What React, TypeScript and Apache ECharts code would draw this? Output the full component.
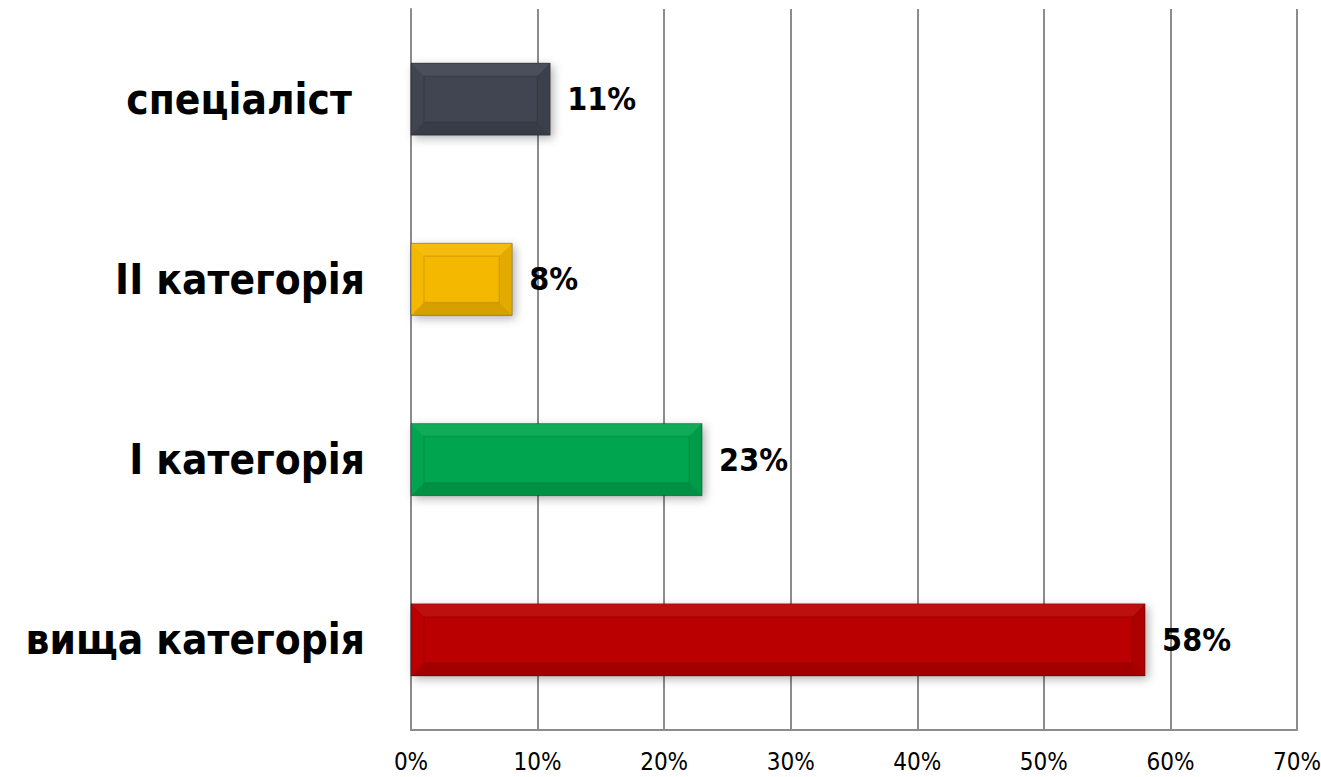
import React, { useEffect, useRef } from "react";
import * as echarts from "echarts";

const categories = ["вища категорія", "I категорія", "II категорія", "спеціаліст "];
const values = [58, 23, 8, 11];
const colors = ["#BA0000", "#00A650", "#F5B800", "#3F4451"];
const xTicks = [0, 10, 20, 30, 40, 50, 60, 70];

export default function App() {
  const ref = useRef<HTMLDivElement>(null);
  useEffect(() => {
    if (!ref.current) return;
    const chart = echarts.init(ref.current, null, { renderer: "svg" });
    const bevel = 13;
    chart.setOption({
      animation: false,
      backgroundColor: "#ffffff",
      grid: {
        left: 411,
        right: 24,
        top: 9,
        bottom: 47,
        containLabel: false,
        outerBoundsMode: "none",
      },
      xAxis: {
        type: "value",
        min: xTicks[0],
        max: xTicks[xTicks.length - 1],
        interval: 10,
        axisLine: { show: true, lineStyle: { color: "#8C8C8C", width: 2 } },
        axisTick: { show: false },
        splitLine: { show: true, lineStyle: { color: "#8C8C8C", width: 2 } },
        axisLabel: {
          formatter: "{value}%",
          fontFamily: "Liberation Sans Narrow, DejaVu Sans Condensed, sans-serif",
          fontSize: 24,
          color: "#000",
          margin: 20,
          hideOverlap: false,
        },
      },
      yAxis: {
        type: "category",
        data: categories,
        axisLine: { show: true, lineStyle: { color: "#8C8C8C", width: 2 } },
        axisTick: { show: false },
        axisLabel: {
          fontFamily: "DejaVu Sans Condensed, DejaVu Sans, sans-serif",
          fontWeight: "bold",
          fontSize: 42,
          color: "#000",
          margin: 46,
        },
      },
      series: [
        {
          type: "bar",
          barWidth: "40%",
          data: values.map((v, i) => ({
            value: v,
            itemStyle: {
              color: colors[i],
              shadowColor: "rgba(0,0,0,0.3)",
              shadowBlur: 10,
              shadowOffsetX: 3,
              shadowOffsetY: 3,
            },
          })),
          label: {
            show: true,
            position: "right",
            distance: 17,
            formatter: "{c}%",
            fontFamily: "DejaVu Sans Condensed, DejaVu Sans, sans-serif",
            fontWeight: "bold",
            fontSize: 32,
            color: "#000",
          },
          z: 2,
        },
        {
          type: "custom",
          z: 3,
          silent: true,
          encode: { x: 0, y: 1 },
          data: values.map((v, i) => [v, i]),
          renderItem: (params: any, api: any) => {
            const v = api.value(0);
            const c = api.value(1);
            const p0 = api.coord([0, c]);
            const p1 = api.coord([v, c]);
            const h = api.size([0, 1])[1] * 0.4;
            const x0 = p0[0];
            const x1 = p1[0];
            const y0 = p0[1] - h / 2;
            const y1 = p0[1] + h / 2;
            const b = Math.min(bevel, (x1 - x0) / 3);
            const ix0 = x0 + b, ix1 = x1 - b, iy0 = y0 + b, iy1 = y1 - b;
            return {
              type: "group",
              children: [
                {
                  type: "polygon",
                  shape: { points: [[x0, y0], [x1, y0], [ix1, iy0], [ix0, iy0]] },
                  style: { fill: "rgba(255,255,255,0.06)" },
                },
                {
                  type: "polygon",
                  shape: { points: [[x1, y0], [x1, y1], [ix1, iy1], [ix1, iy0]] },
                  style: { fill: "rgba(0,0,0,0.07)" },
                },
                {
                  type: "polygon",
                  shape: { points: [[x0, y1], [ix0, iy1], [ix1, iy1], [x1, y1]] },
                  style: { fill: "rgba(0,0,0,0.13)" },
                },
                {
                  type: "rect",
                  shape: { x: ix0, y: iy0, width: ix1 - ix0, height: iy1 - iy0 },
                  style: { fill: "none", stroke: "rgba(0,0,0,0.1)", lineWidth: 1.5 },
                },
                {
                  type: "rect",
                  shape: { x: x0, y: y0, width: x1 - x0, height: y1 - y0 },
                  style: { fill: "none", stroke: "rgba(0,0,0,0.3)", lineWidth: 1 },
                },
              ],
            };
          },
        },
      ],
    });
    return () => chart.dispose();
  }, []);
  return (
    <div
      ref={ref}
      style={{ position: "absolute", left: 0, top: 0, width: 1321, height: 777 }}
    />
  );
}
